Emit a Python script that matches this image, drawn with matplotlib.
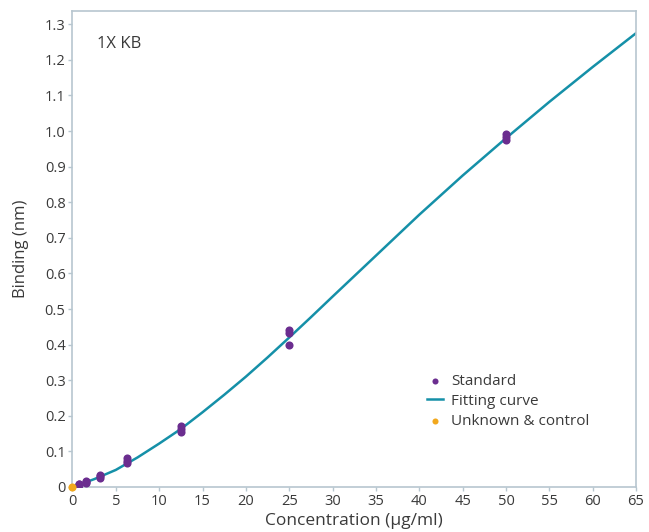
import matplotlib
matplotlib.use("Agg")
import matplotlib.pyplot as plt
from matplotlib.ticker import FuncFormatter

plt.rcParams["font.family"] = ["Open Sans", "DejaVu Sans"]

# standard replicates (concentration µg/ml, binding nm)
std_conc = [0.78, 0.78, 0.78, 1.56, 1.56, 1.56, 3.125, 3.125, 3.125,
            6.25, 6.25, 6.25, 12.5, 12.5, 12.5, 25, 25, 25, 50, 50, 50]
std_bind = [0.006, 0.008, 0.009, 0.012, 0.015, 0.017, 0.026, 0.030, 0.034,
            0.067, 0.074, 0.081, 0.155, 0.163, 0.171, 0.400, 0.432, 0.440,
            0.974, 0.984, 0.992]

# fitted curve
fit_conc = [0, 2.5, 5, 7.5, 10, 12.5, 15, 17.5, 20, 22.5, 25, 27.5, 30, 35,
            40, 45, 50, 55, 60, 65]
fit_bind = [0, 0.022, 0.048, 0.083, 0.122, 0.163, 0.21, 0.259, 0.31, 0.364,
            0.42, 0.477, 0.535, 0.65, 0.765, 0.875, 0.98, 1.082, 1.18, 1.275]

unk_conc = [0.0]
unk_bind = [0.0]

PURPLE = "#6b2d8f"
TEAL = "#1590a8"
ORANGE = "#f2a81d"
SPINE = "#b7c6cf"
TXT = "#3a3a3a"

fig = plt.figure(figsize=(6.49, 5.32), dpi=100)
ax = fig.add_axes([0.1117, 0.0846, 0.8683, 0.8945])

ax.plot(fit_conc, fit_bind, color=TEAL, lw=1.8, label="Fitting curve", zorder=2)
ax.scatter(std_conc, std_bind, s=34, color=PURPLE, label="Standard", zorder=3,
           linewidths=0)
ax.scatter(unk_conc, unk_bind, s=34, color=ORANGE, label="Unknown & control",
           zorder=4, linewidths=0, clip_on=False)

ax.set_xlim(0, 65)
ax.set_ylim(0, 1.337)
ax.set_xticks(range(0, 66, 5))
ax.set_yticks([i / 10 for i in range(14)])
ax.yaxis.set_major_formatter(FuncFormatter(lambda v, p: "0" if abs(v) < 1e-9 else f"{v:.1f}"))

for s in ax.spines.values():
    s.set_color(SPINE)
    s.set_linewidth(1.2)
ax.tick_params(colors=SPINE, labelcolor=TXT, labelsize=10.5, length=3, width=1, pad=2)

ax.set_xlabel("Concentration (µg/ml)", fontsize=12.5, color=TXT, labelpad=3)
ax.set_ylabel("Binding (nm)", fontsize=12, color=TXT, labelpad=11)
ax.text(0.0435, 0.93, "1X KB", transform=ax.transAxes, fontsize=12,
        color=TXT, va="center", ha="left")

h, l = ax.get_legend_handles_labels()
order = [1, 0, 2]
ax.legend([h[i] for i in order], [l[i] for i in order], loc="center left",
          bbox_to_anchor=(0.604, 0.18), frameon=False, fontsize=11,
          handlelength=1.1, handletextpad=0.5, labelspacing=0.33,
          labelcolor=TXT, markerscale=0.75)

fig.savefig("out.png", dpi=100)
